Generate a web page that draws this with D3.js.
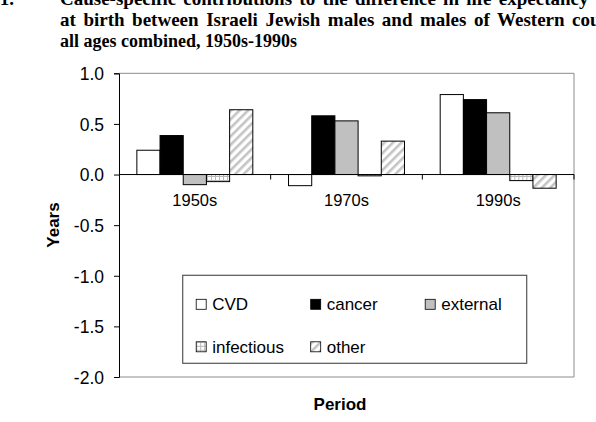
<!DOCTYPE html>
<html>
<meta charset="utf-8">
<style>
body { margin: 0; background: #fff; }
text { font-family: "Liberation Sans", Arial, sans-serif; fill: #000; }
.title text { font-family: "Liberation Serif", "Times New Roman", serif; font-weight: bold; }
</style>
<body>
</body>
<script src="https://cdn.jsdelivr.net/npm/d3@7"></script>
<script>

var periods = ["1950s", "1970s", "1990s"];
var causes = ["CVD", "cancer", "external", "infectious", "other"];
var cvd        = [0.24, -0.11, 0.79];
var cancer     = [0.385, 0.58, 0.74];
var external   = [-0.10, 0.53, 0.61];
var infectious = [-0.07, -0.013, -0.06];
var other      = [0.64, 0.33, -0.135];
var yTicks = [-2.0, -1.5, -1.0, -0.5, 0.0, 0.5, 1.0];
var titleLines = [
  "Cause-specific contributions to the difference in life expectancy",
  "at birth between Israeli Jewish males and males of Western countries,",
  "all ages combined, 1950s-1990s"
];
// the scanned page is justified: first lines get a little extra word space
var titleWordSpacing = [2.5, 2.8, 0];
var titleSize = [19, 19, 18];

var seriesValues = { CVD: cvd, cancer: cancer, external: external, infectious: infectious, other: other };
var fills = { CVD: "#ffffff", cancer: "#000000", external: "#c0c0c0", infectious: "url(#pat-grid)", other: "url(#pat-diag)" };

var width = 596, height = 422;
var plotLeft = 119, plotRight = 574, plotTop = 73.3, plotBottom = 377;

var svg = d3.select("body").append("svg")
    .attr("width", width)
    .attr("height", height);

// patterns
var defs = svg.append("defs");
var diag = defs.append("pattern")
    .attr("id", "pat-diag")
    .attr("patternUnits", "userSpaceOnUse")
    .attr("width", 6).attr("height", 6)
    .attr("patternTransform", "rotate(45)");
diag.append("rect").attr("width", 6).attr("height", 6).attr("fill", "#fff");
diag.append("rect").attr("width", 2.6).attr("height", 6).attr("fill", "#c4c4c4");

var grid = defs.append("pattern")
    .attr("id", "pat-grid")
    .attr("patternUnits", "userSpaceOnUse")
    .attr("width", 4).attr("height", 4);
grid.append("rect").attr("width", 4).attr("height", 4).attr("fill", "#fff");
grid.append("path").attr("d", "M0,0.5 H4 M0.5,0 V4").attr("stroke", "#b8b8b8").attr("stroke-width", 1);

// title (first line runs off the top of the page, as in the scan)
var title = svg.append("g").attr("class", "title");
title.append("text").attr("x", 14).attr("y", 5).attr("text-anchor", "end")
    .style("font-size", "19px").text("Figure 1.");
title.selectAll("text.line").data(titleLines).enter().append("text")
    .attr("class", "line")
    .attr("x", 60)
    .attr("y", function (d, i) { return 5 + i * 21; })
    .style("font-size", function (d, i) { return titleSize[i] + "px"; })
    .style("word-spacing", function (d, i) { return titleWordSpacing[i] + "px"; })
    .text(function (d) { return d; });

var x0 = d3.scaleBand().domain(periods).range([plotLeft, plotRight]).padding(0);
var x1 = d3.scaleBand().domain(causes).range([0, x0.bandwidth()]).paddingInner(0).paddingOuter(0.77);
var y = d3.scaleLinear().domain([-2, 1]).range([plotBottom, plotTop]);

// plot area border (grey)
svg.append("path")
    .attr("d", "M" + plotLeft + "," + y(1) + "H" + plotRight + "V" + y(-2) + "H" + plotLeft)
    .attr("fill", "none")
    .attr("stroke", "#8c8c8c")
    .attr("stroke-width", 1);

// bars
var groups = svg.selectAll(".period").data(periods).enter().append("g")
    .attr("class", "period")
    .attr("transform", function (d) { return "translate(" + x0(d) + ",0)"; });

groups.selectAll("rect").data(function (p, pi) {
    return causes.map(function (c) { return { cause: c, value: seriesValues[c][pi] }; });
  }).enter().append("rect")
    .attr("x", function (d) { return x1(d.cause); })
    .attr("width", x1.bandwidth())
    .attr("y", function (d) { return y(Math.max(0, d.value)); })
    .attr("height", function (d) { return Math.abs(y(d.value) - y(0)); })
    .attr("fill", function (d) { return fills[d.cause]; })
    .attr("stroke", "#000")
    .attr("stroke-width", 1);

// y axis
var yAxis = svg.append("g")
    .attr("transform", "translate(" + plotLeft + ",0)")
    .call(d3.axisLeft(y).tickValues(yTicks).tickSize(5).tickPadding(10)
      .tickFormat(function (d) { return d.toFixed(1); }));
yAxis.select(".domain").attr("stroke", "#000");
yAxis.selectAll("text").style("font-size", "17.5px").attr("dy", "0.36em");

// category axis on zero line
var xAxis = svg.append("g")
    .attr("transform", "translate(0," + y(0) + ")");
xAxis.append("line")
    .attr("x1", plotLeft).attr("x2", plotRight)
    .attr("stroke", "#000");
xAxis.selectAll("line.tick").data(periods).enter().append("line")
    .attr("class", "tick")
    .attr("x1", function (d) { return x0(d) + x0.bandwidth(); })
    .attr("x2", function (d) { return x0(d) + x0.bandwidth(); })
    .attr("y1", 0).attr("y2", 5)
    .attr("stroke", "#000");
xAxis.selectAll("text").data(periods).enter().append("text")
    .attr("x", function (d) { return x0(d) + x0.bandwidth() / 2; })
    .attr("y", 31)
    .attr("text-anchor", "middle")
    .style("font-size", "16.5px")
    .text(function (d) { return d; });

// axis titles
svg.append("text")
    .attr("transform", "translate(59,225) rotate(-90)")
    .attr("text-anchor", "middle")
    .style("font-size", "17px")
    .style("font-weight", "bold")
    .text("Years");
svg.append("text")
    .attr("x", 340).attr("y", 410)
    .attr("text-anchor", "middle")
    .style("font-size", "17px")
    .style("font-weight", "bold")
    .text("Period");

// legend
var legend = svg.append("g").attr("transform", "translate(182.7,275.3)");
legend.append("rect")
    .attr("width", 344).attr("height", 88)
    .attr("fill", "#fff")
    .attr("stroke", "#555")
    .attr("stroke-width", 1.2);

var items = legend.selectAll(".item").data(causes).enter().append("g")
    .attr("class", "item")
    .attr("transform", function (d, i) {
      return "translate(" + (13.5 + (i % 3) * 114.5) + "," + (24 + Math.floor(i / 3) * 42.5) + ")";
    });
items.append("rect")
    .attr("width", 10).attr("height", 10)
    .attr("fill", function (d) { return fills[d]; })
    .attr("stroke", "#000")
    .attr("stroke-width", 0.8);
items.append("text")
    .attr("x", 16).attr("y", 5)
    .attr("dy", "0.36em")
    .style("font-size", "17px")
    .text(function (d) { return d; });

</script>
</html>
